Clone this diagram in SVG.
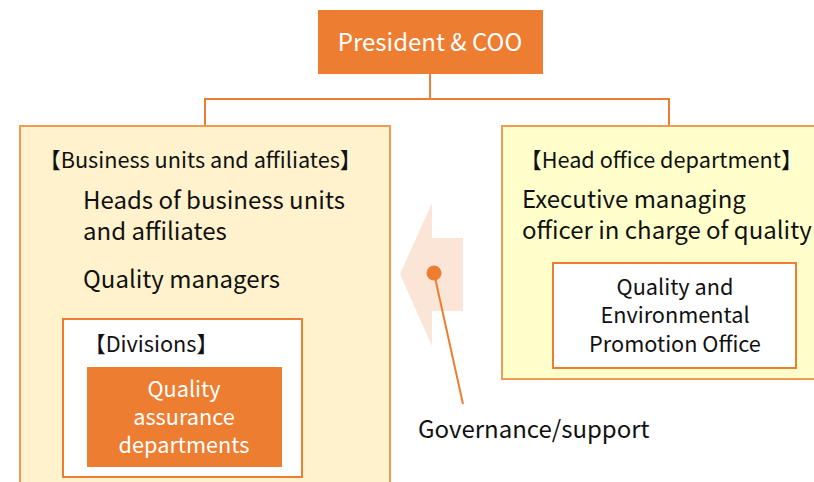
<svg xmlns="http://www.w3.org/2000/svg" width="814" height="482" viewBox="0 0 814 482">
<style>
text{font-family:"Noto Sans CJK JP","Noto Sans",sans-serif;fill:#111}
.w{fill:#fff}
.c{text-anchor:middle}
.lbl{font-size:21.7px}
.big{font-size:24px}
.mid{font-size:21.7px}
.conn{stroke:#ED7D31;stroke-width:2;fill:none}
</style>
<rect width="814" height="482" fill="#fff"/>
<g id="connectors">
<path class="conn" d="M430,74V99M205,126V99H669V126"/>
<polygon points="400,274 432,203 432,238 463,238 463,311 432,311 432,346" fill="#FBE5D6"/>
<line class="conn" x1="434" y1="273" x2="463" y2="404"/>
<circle cx="434" cy="273" r="7.5" fill="#ED7D31"/>
<text x="418" y="438" class="big">Governance/support</text>
</g>
<g id="president">
<rect x="318" y="10" width="225" height="64" fill="#ED7D31"/>
<text x="430" y="51" class="big c w">President &amp; COO</text>
</g>
<g id="business-units">
<rect x="20" y="126" width="370" height="370" fill="#FFF2CC" stroke="#F19A52" stroke-width="2"/>
<text x="39" y="168" class="lbl">【Business units and affiliates】</text>
<text x="83" y="209" class="big">Heads of business units</text>
<text x="83" y="240" class="big">and affiliates</text>
<text x="83" y="288" class="big">Quality managers</text>
</g>
<g id="divisions">
<rect x="63" y="319" width="239" height="158" fill="#fff" stroke="#ED7D31" stroke-width="2"/>
<text x="84" y="352" class="mid">【Divisions】</text>
</g>
<g id="qa-departments">
<rect x="87" y="367" width="195" height="100" fill="#ED7D31"/>
<text x="184" y="397" class="mid c w">Quality</text>
<text x="184" y="425" class="mid c w">assurance</text>
<text x="184" y="453" class="mid c w">departments</text>
</g>
<g id="head-office">
<rect x="502" y="126" width="330" height="253" fill="#FFFFCC" stroke="#F19A52" stroke-width="2"/>
<text x="520" y="168" class="lbl">【Head office department】</text>
<text x="522" y="208" class="big">Executive managing</text>
<text x="522" y="239" class="big">officer in charge of quality</text>
</g>
<g id="qe-office">
<rect x="553" y="263" width="243" height="105" fill="#fff" stroke="#ED7D31" stroke-width="2"/>
<text x="675" y="295" class="mid c">Quality and</text>
<text x="675" y="323" class="mid c">Environmental</text>
<text x="675" y="352" class="mid c">Promotion Office</text>
</g>
</svg>
